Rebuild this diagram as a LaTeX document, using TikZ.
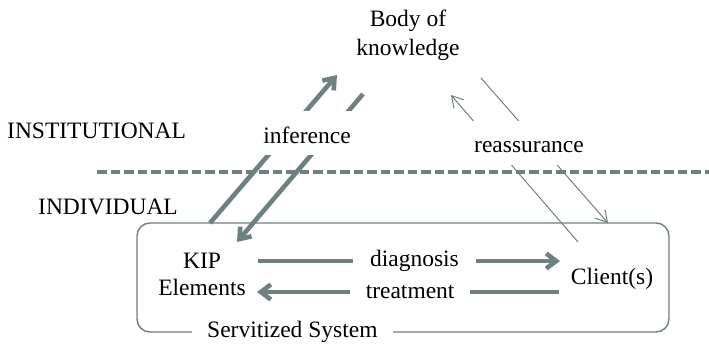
\documentclass[tikz,border=0pt]{standalone}
\usepackage{fontspec}
\setmainfont{Liberation Serif}
\usetikzlibrary{arrows.meta}
\definecolor{slate}{RGB}{110,128,128}
\begin{document}
\begin{tikzpicture}[x=1pt,y=-1pt,
  font=\fontsize{23.5}{27}\selectfont,
  txt/.style={inner sep=0pt},
  mask/.style={fill=white,inner ysep=0pt},
  fat/.style={draw=slate,line width=4.6pt,-{Straight Barb[length=10pt,width=15pt]}},
  fine/.style={draw=slate,line width=1pt,-{Straight Barb[length=11pt,width=13pt]}},
  levelline/.style={draw=slate,line width=4pt,dash pattern=on 9.5pt off 4pt},
  sysbox/.style={draw=slate,line width=1.4pt,rounded corners=13pt,
    minimum width=532pt,minimum height=109pt,inner sep=0pt}]
\useasboundingbox (0,0) rectangle (709,343);

% levels and their separator
\node[txt,anchor=base west] (inst)  at (7,138)  {INSTITUTIONAL};
\node[txt,anchor=base west] (indiv) at (38,214) {INDIVIDUAL};
\coordinate (sepL) at (97,172);
\coordinate (sepR) at (709,172);
\draw[levelline] (sepL) -- (sepR);

% the servitized system
\node[sysbox] (sys) at (403,277.5) {};
\node[txt,fill=white,inner xsep=15pt,anchor=base west] (syslbl) at (192,337) {Servitized System};

% actors
\node[txt,align=center] (body) at (408,35.5) {Body of\\[2pt]knowledge};
\node[txt,align=center] (kip) at (202,274) {KIP\\Elements};
\node[txt] (client) at (612,279) {Client(s)};

% connector end points
\coordinate (kipOut)   at (210,223);
\coordinate (bodyIn)   at (337,75);
\coordinate (bodyOut)  at (363,94);
\coordinate (kipIn)    at (237,242);
\coordinate (cliOut)   at (578,242);
\coordinate (bodyIn2)  at (451,95);
\coordinate (bodyOut2) at (481,78);
\coordinate (cliIn)    at (608,223);
\coordinate (dA) at (258,261);
\coordinate (dB) at (560,261);
\coordinate (tA) at (559,292);
\coordinate (tB) at (257,292);

% inference between individual and institutional level
\draw[fat] (kipOut) -- (bodyIn);
\draw[fat] (bodyOut) -- (kipIn);
\node[mask,inner xsep=4pt,anchor=base,text height=32pt,text depth=12pt] (inf) at (307,143) {inference};

% reassurance between body of knowledge and clients
\draw[fine] (cliOut) -- (bodyIn2);
\draw[fine] (bodyOut2) -- (cliIn);
\node[mask,inner xsep=5pt,anchor=base,text height=31pt,text depth=13pt] (reas) at (529,152) {reassurance};

% diagnosis and treatment inside the system
\draw[fat] (dA) -- node[mask,pos=0.518,inner xsep=17pt] (diag) {diagnosis} (dB);
\draw[fat] (tA) -- node[mask,pos=0.493,inner xsep=15.5pt] (treat) {treatment} (tB);
\end{tikzpicture}
\end{document}
